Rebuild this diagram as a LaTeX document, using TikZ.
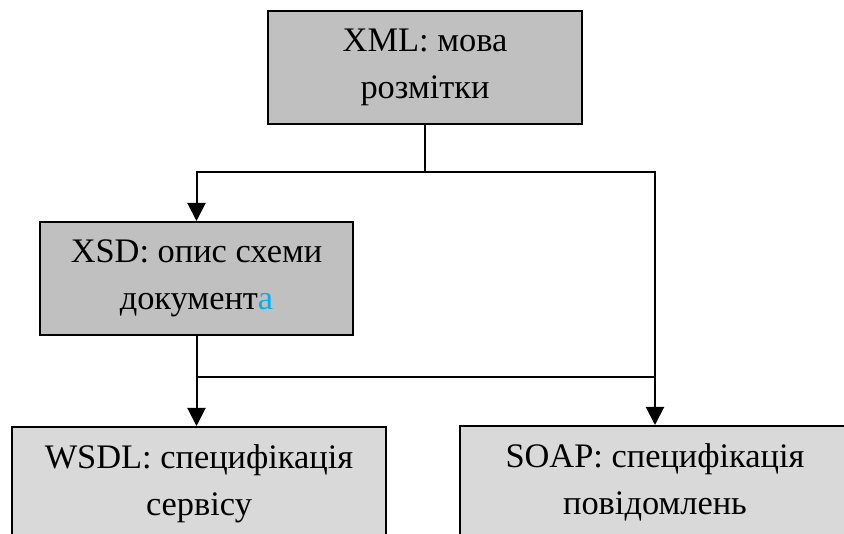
\documentclass[tikz,border=0pt]{standalone}
\usepackage{fontspec}
\setmainfont{Liberation Serif}
\usetikzlibrary{arrows.meta}
\definecolor{boxdark}{HTML}{C0C0C0}
\definecolor{boxlight}{HTML}{D9D9D9}
\definecolor{accentblue}{HTML}{00B0F0}
\tikzset{
  box/.style={draw=black, line width=1.5pt, align=center, inner sep=0pt,
    font=\fontsize{25.8pt}{35pt}\selectfont, minimum height=113*0.75pt},
  darkbox/.style={box, fill=boxdark},
  lightbox/.style={box, fill=boxlight},
  conn/.style={draw=black, line width=1.5pt},
  arr/.style={conn, -{Triangle[length=18*0.75pt, width=18*0.75pt]}}
}
\begin{document}
\begin{tikzpicture}[x=0.75pt, y=-0.75pt]
\useasboundingbox (0,0) rectangle (844,534);
\clip (0,0) rectangle (844,534);
\node[darkbox, minimum width=314*0.75pt] (xml) at (425,67.5) {XML: мова\\розмітки};
\node[darkbox, minimum width=313*0.75pt] (xsd) at (196.5,278.5) {XSD: опис схеми\\документ\textcolor{accentblue}{а}};
\node[lightbox, minimum width=374*0.75pt] (wsdl) at (199,483.5) {WSDL: специфікація\\сервісу};
\fill[boxlight] (460,426) rectangle (900,560);
\draw[conn] (460,560) |- (900,426);
\node[box, draw=none, minimum width=390*0.75pt] (soap) at (655,482.5) {SOAP: специфікація\\повідомлень};
\coordinate (j1) at (xml.south |- 0,172);
\coordinate (j2) at (196.5,377);
\draw[conn] (xml.south) -- (j1);
\draw[arr] (j1) -| (xsd.north);
\draw[arr] (j1) -| (soap.north);
\draw[arr] (xsd.south) -- (xsd.south |- wsdl.north);
\draw[conn] (j2) -- (j2 -| soap.north);
\end{tikzpicture}
\end{document}
